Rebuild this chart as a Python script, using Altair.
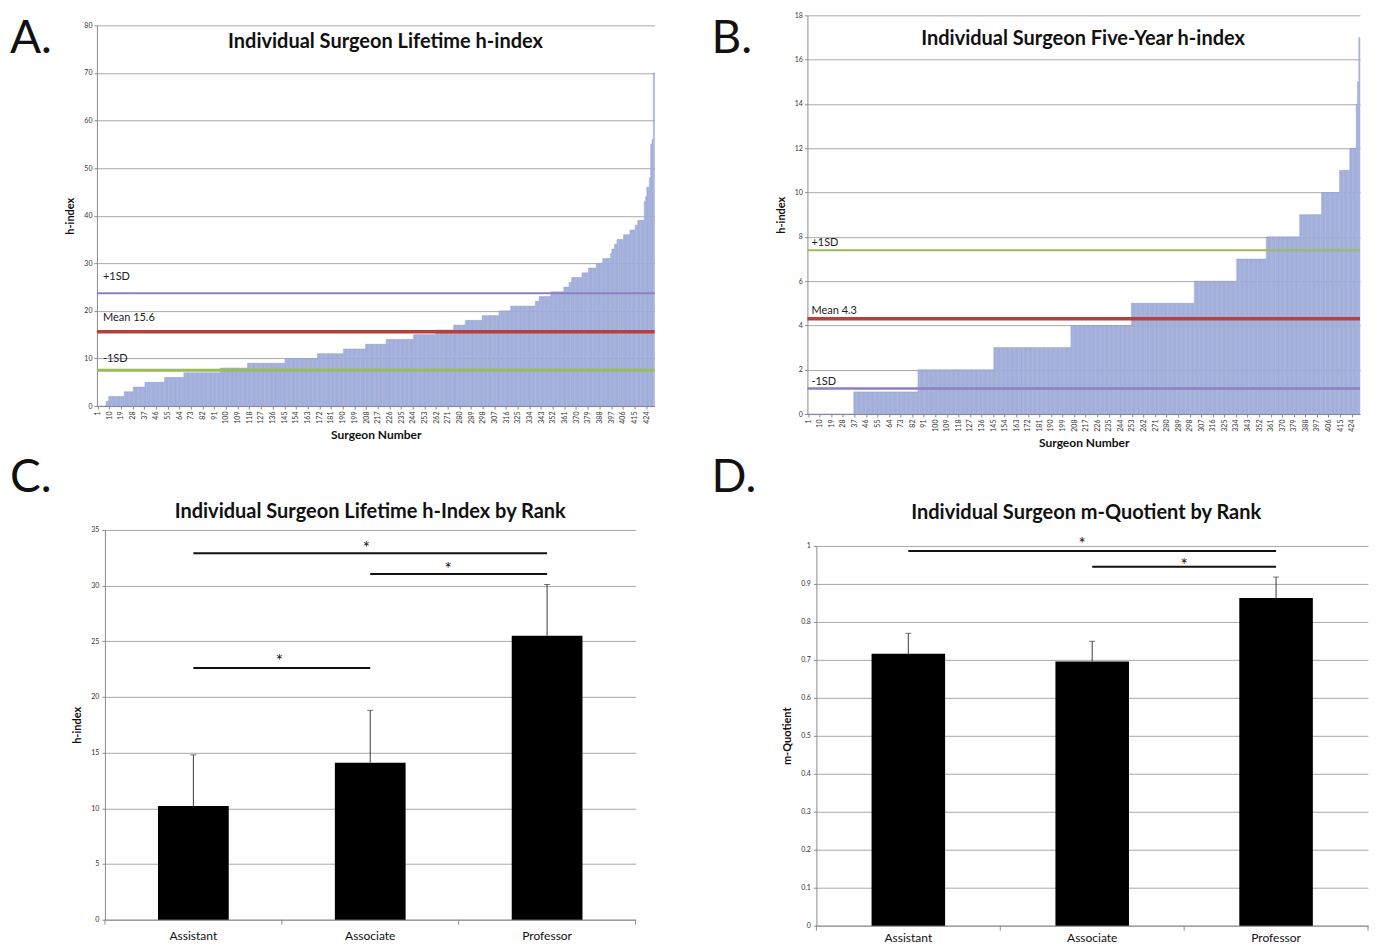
import altair as alt
import pandas as pd

# ---------------- data ----------------
# Panel A: individual lifetime h-index, sorted ascending, as value / number-of-surgeons runs
a_values = [0, 1, 2, 3, 4, 5, 6, 7, 8, 9, 10, 11, 12, 13, 14, 15, 16, 17, 18, 19,
            20, 21, 22, 23, 24, 25, 26, 27, 28, 29, 30, 31, 32, 33, 34, 35, 36, 37, 38, 39,
            43, 44, 46, 48, 55, 56, 70]
a_counts = [7, 2, 12, 7, 9, 15, 15, 28, 21, 29, 25, 20, 17, 16, 21, 17, 14, 9, 13, 13,
            9, 19, 3, 9, 10, 4, 2, 8, 5, 6, 5, 6, 1, 2, 2, 5, 5, 4, 2, 5,
            1, 1, 2, 1, 1, 1, 1]
a_ref_values = [23.7, 15.6, 7.5]
a_ref_labels = ["+1SD", "Mean 15.6", "-1SD"]
a_ref_label_y = [27.1, 18.5, 9.9]

# Panel B: individual five-year h-index
b_values = [0, 1, 2, 3, 4, 5, 6, 7, 8, 9, 10, 11, 12, 14, 15, 17]
b_counts = [36, 50, 59, 60, 47, 49, 33, 23, 26, 17, 14, 8, 5, 1, 1, 1]
b_ref_values = [7.4, 4.3, 1.15]
b_ref_labels = ["+1SD", "Mean 4.3", "-1SD"]
b_ref_label_y = [7.7, 4.65, 1.45]

surgeon_ticks = [1, 10, 19, 28, 37, 46, 55, 64, 73, 82, 91, 100, 109, 118, 127, 136,
                 145, 154, 163, 172, 181, 190, 199, 208, 217, 226, 235, 244, 253, 262,
                 271, 280, 289, 298, 307, 316, 325, 334, 343, 352, 361, 370, 379, 388,
                 397, 406, 415, 424]
a_y_ticks = [0, 10, 20, 30, 40, 50, 60, 70, 80]
b_y_ticks = [0, 2, 4, 6, 8, 10, 12, 14, 16, 18]

# Panels C and D: by academic rank
ranks = ["Assistant", "Associate", "Professor"]
c_means = [10.2, 14.1, 25.5]
c_upper = [14.8, 18.8, 30.1]
d_means = [0.716, 0.696, 0.863]
d_upper = [0.770, 0.749, 0.918]
c_y_ticks = [0, 5, 10, 15, 20, 25, 30, 35]
d_y_ticks = [0, 0.1, 0.2, 0.3, 0.4, 0.5, 0.6, 0.7, 0.8, 0.9, 1.0]

c_br_from = ["Assistant", "Associate", "Assistant"]
c_br_to = ["Professor", "Professor", "Associate"]
c_br_y = [32.9, 31.05, 22.6]
c_star_at = ["Associate", "Professor", "Assistant"]
c_star_y = [33.3, 31.4, 23.1]
d_br_from = ["Assistant", "Associate"]
d_br_to = ["Professor", "Professor"]
d_br_y = [0.987, 0.945]
d_star_at = ["Associate", "Professor"]
d_star_y = [1.003, 0.948]

# ---------------- styling / layout ----------------
W, H = 1361, 926
FONT = "Lato"
BAR_FILL = "#b4bee3"
BAR_EDGE = "#8090cc"
GRID = "#a8a8a8"
AXIS = "#8c8c8c"
RED = "#b5403d"
GREEN = "#9bbb59"
PURPLE = "#8c80c2"

A_X, A_Y = [89, 647], [398, 17]
B_X, B_Y = [800, 1353], [406, 7]
C_X, C_Y = [97, 628], [912, 522]
D_X, D_Y = [809, 1361], [918, 538]
PAD_INNER, PAD_OUTER = 0.6, 0.3


def letter_layer(letter, px, py):
    return alt.Chart(pd.DataFrame({"t": [letter]})).mark_text(
        align="left", baseline="alphabetic", font=FONT, fontSize=46, color="#111"
    ).encode(text="t:N", x=alt.value(px), y=alt.value(py))


def hist_panel(values, counts, ymax, yticks, xr, yr, ref_vals, ref_colors, ref_widths,
               ref_labels, ref_label_y, ref_label_x, title, title_x, title_y, letter, lxy):
    h = [v for v, c in zip(values, counts) for _ in range(c)]
    n = len(h)
    df = pd.DataFrame({"i": list(range(1, n + 1)), "h": h})
    df["x0"] = df["i"] - 0.5
    df["x1"] = df["i"] + 0.5
    xs = alt.Scale(domain=[0.5, n + 0.5], range=xr, nice=False, zero=False)
    ys = alt.Scale(domain=[0, ymax], range=yr, nice=False, zero=True)
    xax = alt.Axis(
        orient="bottom", offset=yr[0] - H, values=surgeon_ticks, labelAngle=270,
        labelAlign="right", labelBaseline="middle", labelFontSize=7, labelPadding=2,
        tickSize=3, grid=False, title="Surgeon Number", titleFontSize=12,
        titleFontWeight="bold", titlePadding=6, titleColor="#111")
    yax = alt.Axis(
        orient="left", offset=-xr[0], values=yticks, labelFontSize=7, labelPadding=2,
        tickSize=3, grid=True, title="h-index", titleFontSize=11, titleFontWeight="bold",
        titlePadding=8, titleColor="#111")

    bars = alt.Chart(df).mark_rect(
        fill=BAR_FILL, stroke=BAR_EDGE, strokeWidth=0.35
    ).encode(
        x=alt.X("x0:Q", scale=xs, axis=xax),
        x2="x1:Q",
        y=alt.Y("h:Q", scale=ys, axis=yax),
        y2=alt.datum(0),
    )

    rdf = pd.DataFrame({"y": ref_vals, "c": ref_colors, "w": ref_widths,
                        "xs": [0.5] * len(ref_vals), "xe": [n + 0.5] * len(ref_vals)})
    rules = alt.Chart(rdf).mark_rule().encode(
        x=alt.X("xs:Q", scale=xs, axis=xax), x2="xe:Q",
        y=alt.Y("y:Q", scale=ys, axis=yax),
        color=alt.Color("c:N", scale=None),
        strokeWidth=alt.StrokeWidth("w:Q", scale=None),
    )

    ldf = pd.DataFrame({"t": ref_labels, "y": ref_label_y, "x": [ref_label_x] * len(ref_labels)})
    labels = alt.Chart(ldf).mark_text(
        align="left", baseline="middle", font=FONT, fontSize=11, color="#222"
    ).encode(x=alt.X("x:Q", scale=xs, axis=xax), y=alt.Y("y:Q", scale=ys, axis=yax),
             text="t:N")

    tdf = pd.DataFrame({"t": [title], "x": [title_x], "y": [title_y]})
    ttl = alt.Chart(tdf).mark_text(
        align="center", baseline="middle", font=FONT, fontSize=20, fontWeight="bold", color="#111"
    ).encode(x=alt.X("x:Q", scale=xs, axis=xax), y=alt.Y("y:Q", scale=ys, axis=yax),
             text="t:N")

    return alt.layer(bars, rules, labels, ttl, letter_layer(letter, *lxy))


def rank_panel(means, upper, ymax, yticks, yfmt, xr, yr, ytitle, br_from, br_to, br_y,
               star_at, star_y, star_dx, title, title_y, title_dx, letter, lxy, label_pad):
    df = pd.DataFrame({"rank": ranks, "m": means, "u": upper})
    xs = alt.Scale(domain=ranks, range=xr, paddingInner=PAD_INNER, paddingOuter=PAD_OUTER)
    ys = alt.Scale(domain=[0, ymax], range=yr, nice=False, zero=True)
    xax = alt.Axis(
        orient="bottom", offset=yr[0] - H, ticks=False, labelAngle=0,
        labelFontSize=12, labelPadding=label_pad, labelColor="#111", grid=False,
        title=None)
    yax = alt.Axis(
        orient="left", offset=-xr[0], values=yticks, format=yfmt, labelFontSize=7,
        labelPadding=3, tickSize=3, grid=True, title=ytitle, titleFontSize=11,
        titleFontWeight="bold", titlePadding=8, titleColor="#111")

    bars = alt.Chart(df).mark_bar(color="black").encode(
        x=alt.X("rank:N", scale=xs, axis=xax),
        y=alt.Y("m:Q", scale=ys, axis=yax),
    )
    err = alt.Chart(df).mark_rule(color="#3c3c3c", strokeWidth=1).encode(
        x=alt.X("rank:N", scale=xs, axis=xax),
        y=alt.Y("m:Q", scale=ys, axis=yax), y2="u:Q")
    caps = alt.Chart(df).mark_tick(color="#3c3c3c", thickness=1, size=6).encode(
        x=alt.X("rank:N", scale=xs, axis=xax),
        y=alt.Y("u:Q", scale=ys, axis=yax))

    # category-boundary tick marks below the axis (Excel style): half a band step
    # either side of each category centre
    tick_len = 5 * ymax / (yr[0] - yr[1])
    half_step = (xr[1] - xr[0]) / (len(ranks) - PAD_INNER + 2 * PAD_OUTER) / 2
    tdf0 = pd.DataFrame({"rank": ranks, "y0": [0.0] * 3, "y1": [-tick_len] * 3})
    tick_left = alt.Chart(tdf0).mark_rule(color=AXIS, strokeWidth=1, xOffset=-half_step).encode(
        x=alt.X("rank:N", scale=xs, axis=xax),
        y=alt.Y("y0:Q", scale=ys, axis=yax), y2="y1:Q")
    tick_right = alt.Chart(tdf0.tail(1)).mark_rule(color=AXIS, strokeWidth=1, xOffset=half_step).encode(
        x=alt.X("rank:N", scale=xs, axis=xax),
        y=alt.Y("y0:Q", scale=ys, axis=yax), y2="y1:Q")

    bdf = pd.DataFrame({"a": br_from, "b": br_to, "y": br_y})
    brackets = alt.Chart(bdf).mark_rule(color="#111", strokeWidth=2).encode(
        x=alt.X("a:N", scale=xs, axis=xax), x2="b:N",
        y=alt.Y("y:Q", scale=ys, axis=yax))

    layers = [bars, err, caps, tick_left, tick_right, brackets]
    for at, sy, dx in zip(star_at, star_y, star_dx):
        sdf = pd.DataFrame({"r": [at], "y": [sy], "t": ["*"]})
        layers.append(alt.Chart(sdf).mark_text(
            font=FONT, fontSize=17, baseline="middle", dx=dx, color="#111"
        ).encode(x=alt.X("r:N", scale=xs, axis=xax), y=alt.Y("y:Q", scale=ys, axis=yax),
                 text="t:N"))

    tdf = pd.DataFrame({"r": ["Associate"], "y": [title_y], "t": [title]})
    layers.append(alt.Chart(tdf).mark_text(
        font=FONT, fontSize=20, fontWeight="bold", baseline="middle", dx=title_dx, color="#111"
    ).encode(x=alt.X("r:N", scale=xs, axis=xax), y=alt.Y("y:Q", scale=ys, axis=yax),
             text="t:N"))
    layers.append(letter_layer(letter, *lxy))
    return alt.layer(*layers)


panel_a = hist_panel(a_values, a_counts, 80, a_y_ticks, A_X, A_Y, a_ref_values,
                     [PURPLE, RED, GREEN], [2, 3.5, 3], a_ref_labels, a_ref_label_y, 5.1,
                     "Individual Surgeon Lifetime h-index", 223, 76.5, "A.", (2, 45))
panel_b = hist_panel(b_values, b_counts, 18, b_y_ticks, B_X, B_Y, b_ref_values,
                     [GREEN, RED, PURPLE], [2, 3.5, 2.5], b_ref_labels, b_ref_label_y, 3.6,
                     "Individual Surgeon Five-Year h-index", 215, 16.95, "B.", (704, 45))
panel_c = rank_panel(c_means, c_upper, 35, c_y_ticks, "d", C_X, C_Y, "h-index",
                     c_br_from, c_br_to, c_br_y, c_star_at, c_star_y, [-4, -99, 86],
                     "Individual Surgeon Lifetime h-Index by Rank", 36.6, 0, "C.", (2, 484), 11)
panel_d = rank_panel(d_means, d_upper, 1, d_y_ticks, ".1~f", D_X, D_Y, "m-Quotient",
                     d_br_from, d_br_to, d_br_y, d_star_at, d_star_y, [-10, -92],
                     "Individual Surgeon m-Quotient by Rank", 1.087, -6, "D.", (704, 484), 7)

chart = alt.layer(panel_a, panel_b, panel_c, panel_d).resolve_scale(
    x="independent", y="independent"
).properties(
    width=W, height=H, padding=0
).configure_view(
    stroke=None
).configure_axis(
    labelFont=FONT, titleFont=FONT, labelColor="#333", domainColor=AXIS, tickColor=AXIS,
    gridColor=GRID, gridWidth=1
)

chart.save("out.html", embed_options={"renderer": "svg", "actions": False})
